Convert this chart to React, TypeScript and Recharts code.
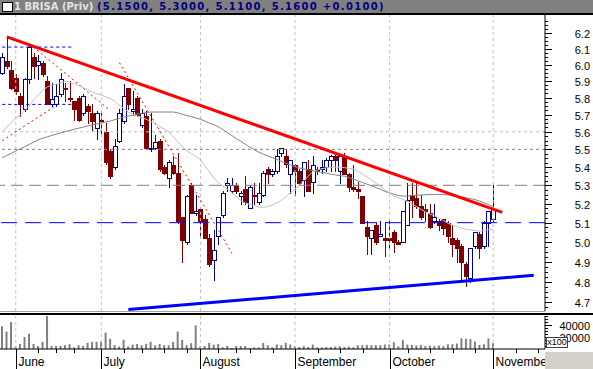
import React from 'react';
import { Bar, ComposedChart, Line, ReferenceLine, XAxis, YAxis } from 'recharts';

// one row per session: [open, high, low, close]
const ohlc: number[][] = [
  [5.95, 6.07, 5.94, 6.05], [6.02, 6.17, 5.98, 5.99], [5.97, 6.02, 5.85, 5.86], [5.92, 5.94, 5.82, 5.84],
  [5.81, 5.83, 5.69, 5.76], [5.73, 5.92, 5.72, 5.91], [5.91, 6.13, 5.89, 6.11], [6.05, 6.07, 5.92, 5.99],
  [6.0, 6.06, 5.91, 6.02], [6.01, 6.02, 5.93, 5.94], [5.9, 5.93, 5.76, 5.76], [5.76, 5.89, 5.75, 5.79],
  [5.76, 5.88, 5.75, 5.81], [5.82, 5.95, 5.81, 5.91], [5.86, 5.89, 5.78, 5.85], [5.8, 5.9, 5.78, 5.79],
  [5.78, 5.78, 5.67, 5.73], [5.8, 5.81, 5.66, 5.67], [5.71, 5.82, 5.7, 5.81], [5.75, 5.76, 5.65, 5.72],
  [5.71, 5.76, 5.61, 5.66], [5.62, 5.72, 5.56, 5.71], [5.67, 5.71, 5.59, 5.66], [5.6, 5.65, 5.42, 5.43],
  [5.49, 5.5, 5.34, 5.35], [5.4, 5.56, 5.39, 5.52], [5.55, 5.73, 5.54, 5.71], [5.66, 5.88, 5.65, 5.81],
  [5.86, 5.86, 5.73, 5.76], [5.72, 5.84, 5.7, 5.73], [5.8, 5.81, 5.69, 5.7], [5.64, 5.73, 5.63, 5.71],
  [5.69, 5.72, 5.5, 5.51], [5.5, 5.71, 5.49, 5.51], [5.51, 5.58, 5.5, 5.54], [5.55, 5.56, 5.38, 5.39],
  [5.4, 5.41, 5.36, 5.37], [5.34, 5.44, 5.29, 5.43], [5.41, 5.46, 5.36, 5.37], [5.37, 5.48, 5.1, 5.11],
  [5.13, 5.13, 4.9, 5.01], [5.0, 5.25, 4.99, 5.24], [5.3, 5.31, 5.15, 5.15], [5.15, 5.25, 5.14, 5.16],
  [5.17, 5.18, 5.02, 5.11], [5.12, 5.14, 5.02, 5.02], [5.02, 5.04, 4.88, 4.89], [4.91, 5.06, 4.81, 4.96],
  [5.03, 5.13, 4.99, 5.13], [5.14, 5.27, 5.13, 5.26], [5.3, 5.34, 5.27, 5.31], [5.27, 5.34, 5.26, 5.3],
  [5.3, 5.31, 5.26, 5.27], [5.24, 5.27, 5.2, 5.26], [5.28, 5.35, 5.2, 5.21], [5.18, 5.3, 5.18, 5.29],
  [5.25, 5.31, 5.2, 5.24], [5.21, 5.31, 5.2, 5.26], [5.25, 5.38, 5.24, 5.37], [5.39, 5.4, 5.31, 5.36],
  [5.36, 5.39, 5.35, 5.38], [5.38, 5.5, 5.37, 5.46], [5.48, 5.51, 5.46, 5.51], [5.46, 5.5, 5.4, 5.42],
  [5.36, 5.44, 5.26, 5.44], [5.41, 5.42, 5.25, 5.38], [5.38, 5.39, 5.3, 5.31], [5.33, 5.43, 5.24, 5.43],
  [5.39, 5.44, 5.27, 5.27], [5.32, 5.46, 5.26, 5.41], [5.39, 5.4, 5.36, 5.38], [5.39, 5.44, 5.37, 5.4],
  [5.4, 5.45, 5.38, 5.44], [5.44, 5.47, 5.38, 5.46], [5.46, 5.47, 5.38, 5.44], [5.38, 5.47, 5.31, 5.46],
  [5.46, 5.48, 5.36, 5.36], [5.36, 5.37, 5.27, 5.29], [5.29, 5.41, 5.27, 5.28], [5.28, 5.32, 5.23, 5.27],
  [5.24, 5.24, 5.1, 5.1], [5.08, 5.11, 4.94, 5.03], [5.02, 5.06, 4.94, 5.06], [5.09, 5.1, 4.99, 5.0],
  [5.03, 5.11, 5.03, 5.04], [5.02, 5.1, 4.93, 5.01], [5.02, 5.11, 4.97, 5.01], [5.05, 5.06, 4.95, 5.0],
  [5.0, 5.01, 4.99, 4.99], [5.0, 5.16, 5.0, 5.16], [5.09, 5.31, 5.09, 5.22], [5.25, 5.31, 5.13, 5.22],
  [5.23, 5.31, 5.18, 5.19], [5.19, 5.25, 5.12, 5.13], [5.17, 5.2, 5.11, 5.16], [5.15, 5.2, 5.07, 5.08],
  [5.11, 5.2, 5.1, 5.13], [5.11, 5.12, 5.06, 5.09], [5.12, 5.12, 5.04, 5.07], [5.1, 5.11, 5.0, 5.03],
  [5.02, 5.09, 4.93, 4.99], [5.01, 5.02, 4.9, 4.97], [4.98, 4.99, 4.8, 4.9], [4.89, 4.9, 4.78, 4.83],
  [4.82, 4.97, 4.8, 4.97], [4.98, 5.05, 4.97, 5.05], [5.04, 5.05, 4.92, 4.97], [4.98, 5.11, 4.97, 5.1],
  [5.1, 5.16, 4.98, 5.16], [5.12, 5.3, 5.11, 5.17],
];

const volume = [
  38000, 29000, 45000, 4000, 8500, 20000, 25500, 8500, 5000, 12000,
  55000, 5000, 5000, 5000, 6300, 8000, 2800, 6300, 5000, 10200,
  12000, 12000, 12000, 27300, 17000, 6300, 4000, 15400, 4000, 7400,
  8500, 6300, 8500, 12000, 6300, 8500, 6300, 6300, 12000, 29000,
  15400, 6300, 9700, 39300, 4000, 5000, 10200, 7400, 8500, 2800,
  5000, 1700, 5000, 5000, 5000, 1700, 2800, 2800, 10200, 6300,
  2800, 7400, 6300, 10200, 7400, 4600, 3400, 4600, 3400, 7400,
  2800, 2800, 3400, 3400, 4000, 4600, 3400, 4000, 2800, 6300,
  6300, 6800, 6300, 6300, 6300, 7400, 7400, 11400, 4600, 14800,
  7400, 6800, 5700, 6800, 5100, 5700, 4600, 5700, 4600, 8000,
  8000, 9100, 17700, 17100, 16500, 12500, 6800, 8000, 17700, 9700,
];

// short moving average (light grey)
const fastMa = [
  5.6, 5.627, 5.654, 5.68, 5.697, 5.723, 5.75, 5.787, 5.817, 5.843,
  5.865, 5.874, 5.882, 5.89, 5.899, 5.893, 5.883, 5.872, 5.86, 5.848,
  5.835, 5.824, 5.815, 5.805, 5.795, 5.778, 5.756, 5.735, 5.714, 5.703,
  5.692, 5.682, 5.672, 5.66, 5.645, 5.63, 5.616, 5.599, 5.571, 5.543,
  5.516, 5.491, 5.475, 5.459, 5.443, 5.408, 5.374, 5.339, 5.313, 5.295,
  5.278, 5.26, 5.238, 5.217, 5.204, 5.197, 5.19, 5.183, 5.181, 5.186,
  5.193, 5.206, 5.219, 5.239, 5.26, 5.281, 5.301, 5.326, 5.351, 5.377,
  5.385, 5.391, 5.397, 5.4, 5.4, 5.4, 5.397, 5.393, 5.39, 5.377,
  5.361, 5.346, 5.329, 5.311, 5.293, 5.274, 5.259, 5.242, 5.232, 5.223,
  5.213, 5.199, 5.185, 5.171, 5.157, 5.145, 5.136, 5.124, 5.11, 5.097,
  5.087, 5.079, 5.072, 5.065, 5.062, 5.059, 5.055, 5.06, 5.064, 5.066,
];

// long moving average (dark grey)
const slowMa = [
  5.452, 5.465, 5.477, 5.491, 5.503, 5.515, 5.528, 5.541, 5.554, 5.563,
  5.571, 5.579, 5.586, 5.594, 5.601, 5.608, 5.615, 5.621, 5.627, 5.633,
  5.64, 5.645, 5.651, 5.657, 5.662, 5.671, 5.678, 5.685, 5.691, 5.697,
  5.703, 5.707, 5.712, 5.715, 5.715, 5.715, 5.715, 5.715, 5.715, 5.71,
  5.702, 5.694, 5.688, 5.68, 5.673, 5.662, 5.65, 5.64, 5.629, 5.612,
  5.595, 5.578, 5.56, 5.545, 5.528, 5.512, 5.497, 5.483, 5.473, 5.462,
  5.452, 5.443, 5.432, 5.422, 5.412, 5.402, 5.395, 5.39, 5.385, 5.381,
  5.376, 5.371, 5.366, 5.361, 5.357, 5.353, 5.35, 5.342, 5.333, 5.324,
  5.315, 5.306, 5.297, 5.287, 5.278, 5.266, 5.259, 5.251, 5.244, 5.241,
  5.242, 5.244, 5.246, 5.247, 5.249, 5.25, 5.251, 5.25, 5.249, 5.248,
  5.243, 5.24, 5.237, 5.232, 5.228, 5.222, 5.215, 5.205, 5.196, 5.185,
];

const monthStarts = [3, 22, 44, 65, 86, 109];
const monthNames = ['June', 'July', 'August', 'September', 'October', 'November'];
const weekTicks = [8, 12, 16, 27, 31, 36, 41, 48, 52, 55, 60, 70, 75, 80, 90, 95, 100, 105, 114, 119];
const priceLabels = [6.2, 6.1, 6.0, 5.9, 5.8, 5.7, 5.6, 5.5, 5.4, 5.3, 5.2, 5.1, 5.0, 4.9, 4.8, 4.7];
const volumeLabels = [40000, 20000];
const volumeTicks = [5000, 10000, 15000, 20000, 25000, 30000, 35000, 40000, 45000, 50000, 55000];

// drawn studies
const downTrend = [{ x: 1, y: 6.175 }, { x: 111, y: 5.154 }];
const supportLine = [{ x: 28, y: 4.664 }, { x: 118, y: 4.831 }];
const dottedTrends = [
  [{ x: 6, y: 6.131 }, { x: 24, y: 5.723 }],
  [{ x: 0, y: 5.549 }, { x: 12, y: 5.755 }],
  [{ x: 26, y: 6.013 }, { x: 51, y: 4.942 }],
];
const earlyMarks = [6.11, 5.76];
const blankSlots = 11;

const header = { name: '1 BRISA (Priv)', values: '(5.1500, 5.3000, 5.1100, 5.1600 +0.0100)' };

const rows = Array.from({ length: ohlc.length + blankSlots }, (_, i) => {
  const c = ohlc[i];
  return {
    t: i,
    open: c ? c[0] : null,
    high: c ? c[1] : null,
    low: c ? c[2] : null,
    close: c ? c[3] : null,
    range: c ? [c[2], c[1]] : null,
    volume: c ? volume[i] : null,
    fast: fastMa[i] ?? null,
    slow: slowMa[i] ?? null,
  };
});

const priceTicks: number[] = [4.675];
priceLabels.forEach((p) => {
  priceTicks.push(p);
  [0.025, 0.05, 0.075].forEach((d) => priceTicks.push(+(p + d).toFixed(3)));
});

const axisFont = '"Liberation Sans", Arial, sans-serif';

const Candle = (props: any) => {
  const { x, y, width, height, payload } = props;
  if (!payload || payload.open == null) return <g />;
  const { open, high, low, close } = payload;
  const span = Math.log(high) - Math.log(low);
  const at = (v: number) => (span === 0 ? y : y + (height * (Math.log(high) - Math.log(v))) / span);
  const up = close >= open;
  const color = up ? '#000080' : '#800000';
  const cx = Math.round(x + width / 2) + 0.5;
  const top = Math.round(at(Math.max(open, close))) + 0.5;
  const bot = Math.round(at(Math.min(open, close))) + 0.5;
  return (
    <g>
      <line x1={cx} x2={cx} y1={Math.round(y)} y2={Math.round(y + height) + 1} stroke={color} />
      <rect x={cx - 2} y={top} width={4} height={Math.max(bot - top, 1)} fill={up ? '#fff' : color} stroke={color} />
    </g>
  );
};

const PriceTick = (props: any) => {
  const { x, y, payload } = props;
  const v = payload.value;
  const major = priceLabels.some((p) => Math.abs(p - v) < 1e-6);
  const yy = Math.round(y) + 0.5;
  return (
    <g>
      <line x1={x} x2={x + (major ? 7 : 3)} y1={yy} y2={yy} stroke="#000" />
      {major && (
        <text x={x + 45} y={yy} dy={4} textAnchor="end" fontSize={11} fontFamily={axisFont} fill="#000">
          {v.toFixed(1)}
        </text>
      )}
    </g>
  );
};

const VolumeTick = (props: any) => {
  const { x, y, payload } = props;
  const major = volumeLabels.includes(payload.value);
  const yy = Math.round(y) + 0.5;
  return (
    <g>
      <line x1={x} x2={x + (major ? 7 : 3)} y1={yy} y2={yy} stroke="#000" />
      {major && (
        <text x={x + 45} y={yy} dy={4} textAnchor="end" fontSize={11} fontFamily={axisFont} fill="#000">
          {payload.value}
        </text>
      )}
    </g>
  );
};

const DateTick = (props: any) => {
  const { x, y, payload } = props;
  const i = payload.value;
  const cx = Math.round(x) + 0.5;
  const m = monthStarts.indexOf(i);
  if (m >= 0) {
    return (
      <g>
        <line x1={cx} x2={cx} y1={y} y2={y + 20} stroke="#000" />
        <text x={cx + 2} y={y + 17} fontSize={12} fontFamily={axisFont} fill="#000">
          {monthNames[m]}
        </text>
      </g>
    );
  }
  if (weekTicks.includes(i)) return <line x1={cx} x2={cx} y1={y} y2={y + 4} stroke="#000" />;
  return <g />;
};

const monthLines = monthStarts.map((m) => (
  <ReferenceLine key={'m' + m} x={m} stroke="#c0c0c0" strokeDasharray="3 3" ifOverflow="visible" />
));

export default function App() {
  return (
    <div style={{ position: 'absolute', left: 0, top: 0, width: 593, height: 369, background: '#fff', overflow: 'hidden' }}>
      <div
        style={{
          position: 'absolute', left: 0, top: 0, width: 593, height: 13, background: '#808080',
          borderBottom: '2px solid #000', font: 'bold 10px "DejaVu Sans", sans-serif', lineHeight: '13px', whiteSpace: 'nowrap',
        }}
      >
        <span style={{ position: 'absolute', left: 2, top: 2, width: 11, height: 10, background: '#fff', border: '1px solid #000', boxSizing: 'border-box' }} />
        <span style={{ position: 'absolute', left: 14, top: 0, color: '#e4e4e4' }}>{header.name}</span>
        <span style={{ position: 'absolute', left: 97, top: 0, color: '#000080', letterSpacing: 1.3 }}>{header.values}</span>
      </div>

      <div style={{ position: 'absolute', left: 0, top: 15 }}>
        <ComposedChart width={593} height={297} data={rows} margin={{ top: 0, right: 0, bottom: 1, left: 0 }}>
          <XAxis dataKey="t" type="category" hide />
          <YAxis
            orientation="right" width={48} scale="log" domain={[4.657, 6.315]} allowDataOverflow
            ticks={priceTicks} interval={0} tick={<PriceTick />} tickLine={false} tickSize={0} tickMargin={0}
            axisLine={{ stroke: '#000' }}
          />
          {monthLines}
          <ReferenceLine y={5.6} stroke="#c0c0c0" strokeDasharray="3 3" />
          <ReferenceLine y={5.5} stroke="#808080" strokeDasharray="3 3" />
          <ReferenceLine y={5.3} stroke="#808080" strokeDasharray="12 6" />
          <ReferenceLine y={5.1} stroke="#0000ff" strokeDasharray="16 8" />
          {earlyMarks.map((v) => (
            <ReferenceLine key={'e' + v} segment={[{ x: 0, y: v }, { x: 16, y: v }]} stroke="#0000ff" strokeDasharray="3 3" ifOverflow="visible" />
          ))}
          {dottedTrends.map((s, k) => (
            <ReferenceLine key={'d' + k} segment={s} stroke="#ff0000" strokeDasharray="2 3" ifOverflow="visible" />
          ))}
          <Line dataKey="slow" stroke="#808080" strokeWidth={1} dot={false} isAnimationActive={false} />
          <Line dataKey="fast" stroke="#c0c0c0" strokeWidth={1} dot={false} isAnimationActive={false} />
          <Bar dataKey="range" barSize={4} shape={<Candle />} isAnimationActive={false} />
          <ReferenceLine segment={downTrend} stroke="#ff0000" strokeWidth={3} ifOverflow="visible" />
          <ReferenceLine segment={supportLine} stroke="#0000ff" strokeWidth={3} ifOverflow="visible" />
        </ComposedChart>
      </div>

      <div style={{ position: 'absolute', left: 0, top: 311, width: 545, height: 1, background: '#a0a0a0' }} />
      <div style={{ position: 'absolute', left: 0, top: 313, width: 593, height: 2, background: '#000' }} />

      <div style={{ position: 'absolute', left: 0, top: 316 }}>
        <ComposedChart width={593} height={53} data={rows} margin={{ top: 0, right: 0, bottom: 0, left: 0 }}>
          <XAxis
            dataKey="t" type="category" height={20} interval={0} tick={<DateTick />} tickLine={false}
            tickSize={0} tickMargin={0} axisLine={{ stroke: '#000' }}
          />
          <YAxis
            orientation="right" width={48} domain={[0, 55000]} allowDataOverflow ticks={volumeTicks} interval={0}
            tick={<VolumeTick />} tickLine={false} tickSize={0} tickMargin={0} axisLine={{ stroke: '#000' }}
          />
          {monthLines}
          <Bar dataKey="volume" fill="#808080" barSize={2} isAnimationActive={false} />
        </ComposedChart>
      </div>

      <div
        style={{
          position: 'absolute', left: 546, top: 337, width: 22, height: 11, background: '#fff', border: '1px solid #404040',
          boxSizing: 'border-box', font: '9px "Liberation Sans", Arial, sans-serif', lineHeight: '9px', textAlign: 'center',
        }}
      >
        x100
      </div>
      <div style={{ position: 'absolute', left: 545, top: 352, width: 48, height: 17, background: '#d4d0c8' }} />
    </div>
  );
}
